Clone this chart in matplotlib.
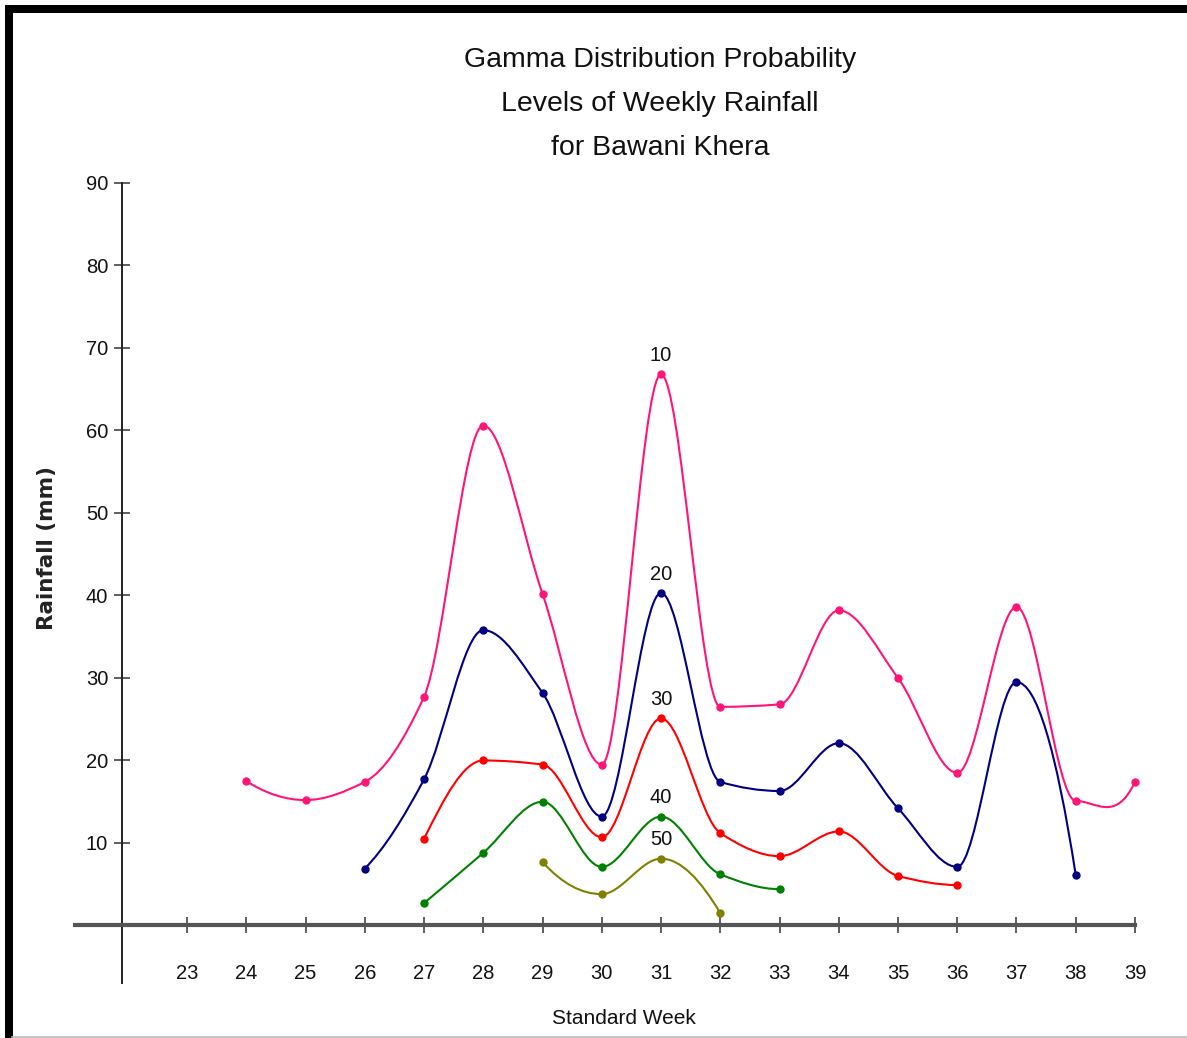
import numpy as np
import matplotlib
matplotlib.use("Agg")
import matplotlib.pyplot as plt
from matplotlib.path import Path
from matplotlib.patches import PathPatch, Rectangle
from matplotlib.lines import Line2D

plt.rcParams['font.family'] = ['Liberation Sans', 'DejaVu Sans']

# Data: weekly rainfall (mm) at gamma probability levels
weeks = list(range(23, 40))
levels = ['10', '20', '30', '40', '50']
colors = ['#FF1478', '#000080', '#FF0000', '#008000', '#808000']

p10_weeks = [24, 25, 26, 27, 28, 29, 30, 31, 32, 33, 34, 35, 36, 37, 38, 39]
p10_vals = [17.5, 15.2, 17.4, 27.7, 60.6, 40.2, 19.5, 66.8, 26.5, 26.8, 38.2, 30.0, 18.5, 38.6, 15.1, 17.4]

p20_weeks = [26, 27, 28, 29, 30, 31, 32, 33, 34, 35, 36, 37, 38]
p20_vals = [6.9, 17.7, 35.8, 28.2, 13.2, 40.3, 17.4, 16.3, 22.1, 14.2, 7.1, 29.5, 6.1]

p30_weeks = [27, 28, 29, 30, 31, 32, 33, 34, 35, 36]
p30_vals = [10.5, 20.0, 19.5, 10.7, 25.1, 11.2, 8.4, 11.4, 6.0, 4.9]

p40_weeks = [27, 28, 29, 30, 31, 32, 33]
p40_vals = [2.7, 8.8, 15.0, 7.1, 13.2, 6.2, 4.4]

p50_weeks = [29, 30, 31, 32]
p50_vals = [7.7, 3.8, 8.1, 1.5]

series = [(p10_weeks, p10_vals), (p20_weeks, p20_vals), (p30_weeks, p30_vals),
          (p40_weeks, p40_vals), (p50_weeks, p50_vals)]


def pchip_slopes(x, y):
    x = np.asarray(x, float)
    y = np.asarray(y, float)
    h = np.diff(x)
    d = np.diff(y) / h
    n = len(x)
    m = np.zeros(n)
    for i in range(1, n - 1):
        if d[i - 1] * d[i] > 0:
            w1 = 2 * h[i] + h[i - 1]
            w2 = h[i] + 2 * h[i - 1]
            m[i] = (w1 + w2) / (w1 / d[i - 1] + w2 / d[i])
    m[0] = ((2 * h[0] + h[1]) * d[0] - h[0] * d[1]) / (h[0] + h[1]) if n > 2 else d[0]
    if np.sign(m[0]) != np.sign(d[0]):
        m[0] = 0
    m[-1] = ((2 * h[-1] + h[-2]) * d[-1] - h[-1] * d[-2]) / (h[-1] + h[-2]) if n > 2 else d[-1]
    if np.sign(m[-1]) != np.sign(d[-1]):
        m[-1] = 0
    return m


def smooth_path(x, y):
    # cubic Bezier segments through the data points
    m = pchip_slopes(x, y)
    verts = [(x[0], y[0])]
    codes = [Path.MOVETO]
    for i in range(len(x) - 1):
        h = x[i + 1] - x[i]
        verts += [(x[i] + h / 3, y[i] + m[i] * h / 3),
                  (x[i + 1] - h / 3, y[i + 1] - m[i + 1] * h / 3),
                  (x[i + 1], y[i + 1])]
        codes += [Path.CURVE4] * 3
    return Path(verts, codes)


fig = plt.figure(figsize=(11.87, 10.38), dpi=100)
ax = fig.add_axes([0, 0, 1, 1])
# week 23 at ~187 px, 59.25 px per week
ax.set_xlim(23 - 187 / 59.25, 23 + 1000 / 59.25)
ax.set_ylim(-13.64, 112.18)
ax.patch.set_visible(False)

for (xs, ys), c, lab in zip(series, colors, levels):
    ax.add_patch(PathPatch(smooth_path(xs, ys), facecolor='none', edgecolor=c, lw=1.5))
    ax.plot(xs, ys, 'o', color=c, ms=5, ls='none')
    i = xs.index(31)
    ax.annotate(lab, (31, ys[i]), xytext=(0, 13.5), textcoords='offset points',
                ha='center', va='center', fontsize=14.5, color='#111111')

# axes
for s in ['top', 'right']:
    ax.spines[s].set_visible(False)
ax.spines['left'].set_position(('data', 23 - 65 / 59.25))
ax.spines['left'].set_bounds(-7, 90)
ax.spines['left'].set_color('#222222')
ax.spines['left'].set_linewidth(1.4)
ax.spines['bottom'].set_position(('data', 0))
ax.spines['bottom'].set_bounds(23 - 112 / 59.25, 39.0)
ax.spines['bottom'].set_color('#555555')
ax.spines['bottom'].set_linewidth(3)

ax.set_xticks(weeks)
ax.set_xticklabels([str(w) for w in weeks])
ax.set_yticks(range(10, 100, 10))
ax.set_yticklabels([str(v) for v in range(10, 100, 10)])
ax.tick_params(axis='x', direction='inout', length=11.5, width=1.1, color='#333333',
               pad=22, labelsize=14.5, labelcolor='#111111')
ax.tick_params(axis='y', direction='inout', length=12, width=1.1, color='#333333',
               pad=4, labelsize=14.5, labelcolor='#111111')

fig.text(624 / 1187, 1 - 1018 / 1038, 'Standard Week', ha='center', va='center',
         fontsize=15, color='#111111')
fig.text(47 / 1187, 1 - 548 / 1038, 'Rainfall (mm)', ha='center', va='center',
         rotation=90, fontsize=15.5, color='#222222', family='DejaVu Sans', weight='bold')
fig.text(660 / 1187, 1 - 104 / 1038,
         'Gamma Distribution Probability\nLevels of Weekly Rainfall\nfor Bawani Khera',
         ha='center', va='center', fontsize=20.5, linespacing=1.9, color='#111111')

# frame
W, H = 1187, 1038
fig.patches.append(Rectangle((5 / W, 1 - 13 / H), 1 - 5 / W, 8 / H, transform=fig.transFigure,
                             facecolor='black', edgecolor='none'))
fig.patches.append(Rectangle((5 / W, 0), 7.5 / W, 1 - 5 / H, transform=fig.transFigure,
                             facecolor='black', edgecolor='none'))
fig.add_artist(Line2D([12 / W, 1], [1.5 / H, 1.5 / H], transform=fig.transFigure,
                      color='#bbbbbb', lw=1.2))

fig.savefig('out.png', dpi=100)
